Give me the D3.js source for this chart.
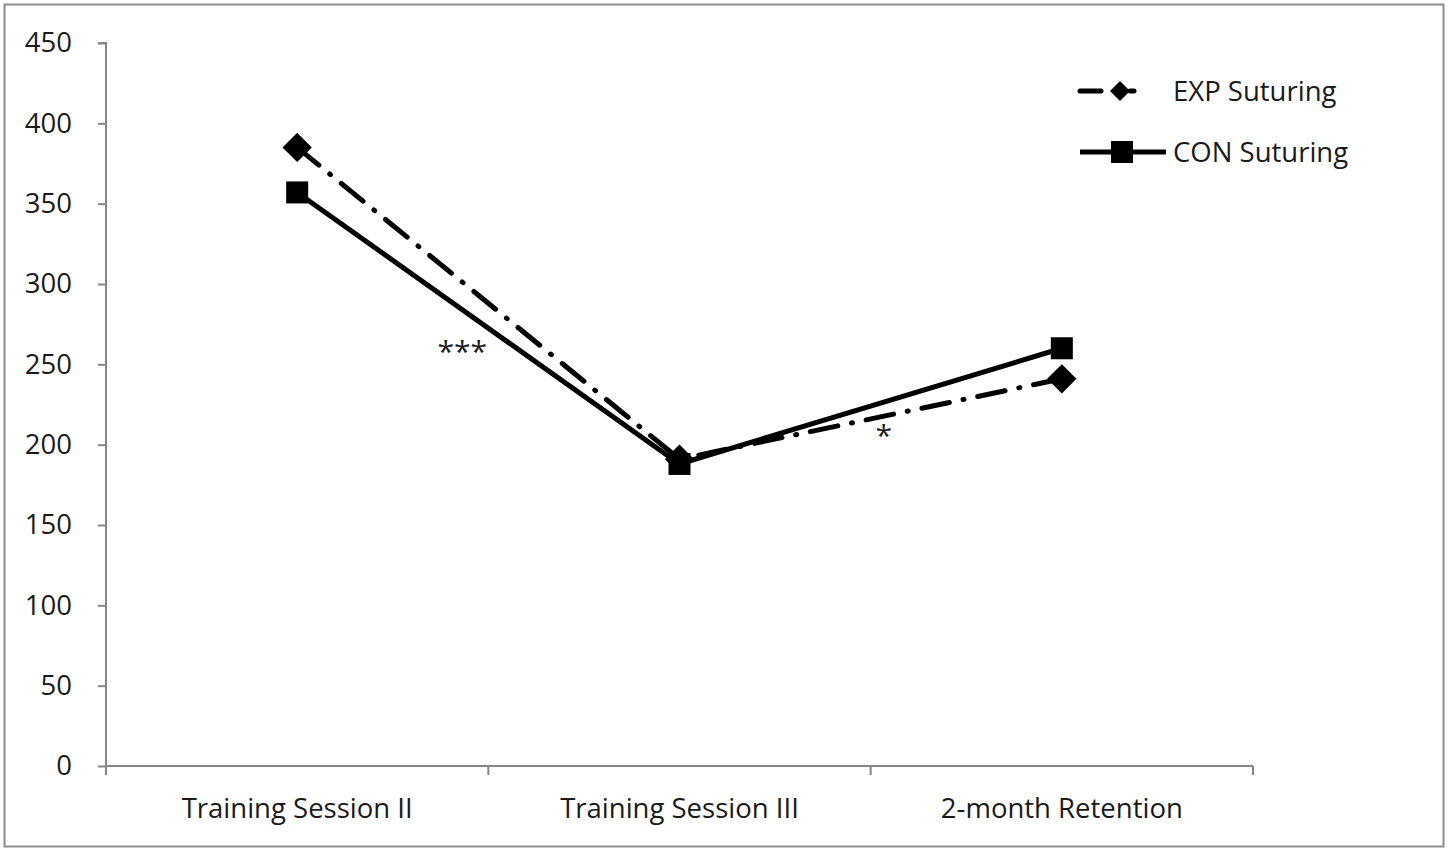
<!DOCTYPE html>
<html>
<head>
<meta charset="utf-8">
<script src="https://cdn.jsdelivr.net/npm/d3@7"></script>
<style>
  html, body { margin: 0; padding: 0; background: #fff; }
  svg { display: block; }
  text { font-family: "Open Sans", "Noto Sans", sans-serif; fill: #1a1a1a; }
</style>
</head>
<body>
<svg id="chart" width="1450" height="860"></svg>
<script>
const categories = ["Training Session II", "Training Session III", "2-month Retention"];
const expValues = [385, 191, 241];
const conValues = [357, 188, 260];
const yTicks = [0, 50, 100, 150, 200, 250, 300, 350, 400, 450];
const seriesNames = ["EXP Suturing", "CON Suturing"];
const annotations = [
  { between: [0, 1], label: "***", value: 255, dx: -26 },
  { between: [1, 2], label: "*", value: 203, dx: 13 }
];

const svg = d3.select("#chart");
const FONT = '"Open Sans", sans-serif';
const FS = "27.5px";

// outer frame
svg.append("rect")
  .attr("x", 4.5).attr("y", 4.5)
  .attr("width", 1439).attr("height", 842)
  .attr("fill", "#fff").attr("stroke", "#8c8c8c").attr("stroke-width", 2);

const x0 = 106, x1 = 1253, yBottom = 766, yTop = 43;

const x = d3.scaleBand().domain(categories).range([x0, x1]).paddingInner(0).paddingOuter(0);
const y = d3.scaleLinear().domain([0, 450]).range([yBottom, yTop]);

// Y axis
const yAxis = d3.axisLeft(y).tickValues(yTicks).tickSize(8).tickPadding(26);
const gy = svg.append("g").attr("transform", `translate(${x0},0)`).call(yAxis);
gy.selectAll("path, line").attr("stroke", "#868686").attr("stroke-width", 2);
gy.select(".domain").attr("d", `M-8,${yTop}H0V${yBottom}`);
gy.selectAll("text").style("font-family", FONT).style("font-size", FS).attr("fill", "#1a1a1a");

// X axis
const xAxis = d3.axisBottom(x).tickSize(0).tickPadding(32);
const gx = svg.append("g").attr("transform", `translate(0,${yBottom})`).call(xAxis);
gx.select(".domain").attr("stroke", "#868686").attr("stroke-width", 2)
  .attr("d", `M${x0},0H${x1}`);
gx.selectAll("text").style("font-family", FONT).style("font-size", FS).attr("fill", "#1a1a1a");
// boundary ticks
const bounds = categories.map(c => x(c)).concat([x1]);
gx.selectAll(".btick").data(bounds).enter().append("line")
  .attr("x1", d => d).attr("x2", d => d).attr("y1", 0).attr("y2", 9)
  .attr("stroke", "#868686").attr("stroke-width", 2);

const cx = c => x(c) + x.bandwidth() / 2;

const line = d3.line().x((d, i) => cx(categories[i])).y(d => y(d));

// EXP line (dash-dot)
svg.append("path").datum(expValues)
  .attr("d", line).attr("fill", "none").attr("stroke", "#000")
  .attr("stroke-width", 5).attr("stroke-linecap", "round")
  .attr("stroke-dasharray", "28,14,1,14");

// CON line (solid)
svg.append("path").datum(conValues)
  .attr("d", line).attr("fill", "none").attr("stroke", "#000")
  .attr("stroke-width", 5);

// markers
svg.selectAll(".exp").data(expValues).enter().append("path")
  .attr("d", d3.symbol().type(d3.symbolSquare).size(430)())
  .attr("transform", (d, i) => `translate(${cx(categories[i])},${y(d)}) rotate(45)`)
  .attr("fill", "#000");

svg.selectAll(".con").data(conValues).enter().append("rect")
  .attr("x", (d, i) => cx(categories[i]) - 11)
  .attr("y", d => y(d) - 11)
  .attr("width", 22).attr("height", 22)
  .attr("fill", "#000");

// annotations
svg.selectAll(".ann").data(annotations).enter().append("text")
  .attr("x", d => (cx(categories[d.between[0]]) + cx(categories[d.between[1]])) / 2 + d.dx)
  .attr("y", d => y(d.value) + 6)
  .attr("text-anchor", "middle")
  .style("font-size", "30px")
  .attr("fill", "#222")
  .text(d => d.label);

// legend
const lg = svg.append("g");
const legY = [91, 152];
// EXP legend
lg.append("line").attr("x1", 1080).attr("x2", 1101).attr("y1", legY[0]).attr("y2", legY[0])
  .attr("stroke", "#000").attr("stroke-width", 5).attr("stroke-linecap", "round");
lg.append("line").attr("x1", 1130).attr("x2", 1134).attr("y1", legY[0]).attr("y2", legY[0])
  .attr("stroke", "#000").attr("stroke-width", 5).attr("stroke-linecap", "round");
lg.append("path").attr("d", d3.symbol().type(d3.symbolSquare).size(200)())
  .attr("transform", `translate(1120,${legY[0]}) rotate(45)`).attr("fill", "#000");
lg.append("text").attr("x", 1173).attr("y", legY[0] + 10).style("font-size", FS).text(seriesNames[0]);
// CON legend
lg.append("line").attr("x1", 1080).attr("x2", 1166).attr("y1", legY[1]).attr("y2", legY[1])
  .attr("stroke", "#000").attr("stroke-width", 5);
lg.append("rect").attr("x", 1111).attr("y", legY[1] - 11).attr("width", 22).attr("height", 22).attr("fill", "#000");
lg.append("text").attr("x", 1173).attr("y", legY[1] + 10).style("font-size", FS).text(seriesNames[1]);
</script>
</body>
</html>
